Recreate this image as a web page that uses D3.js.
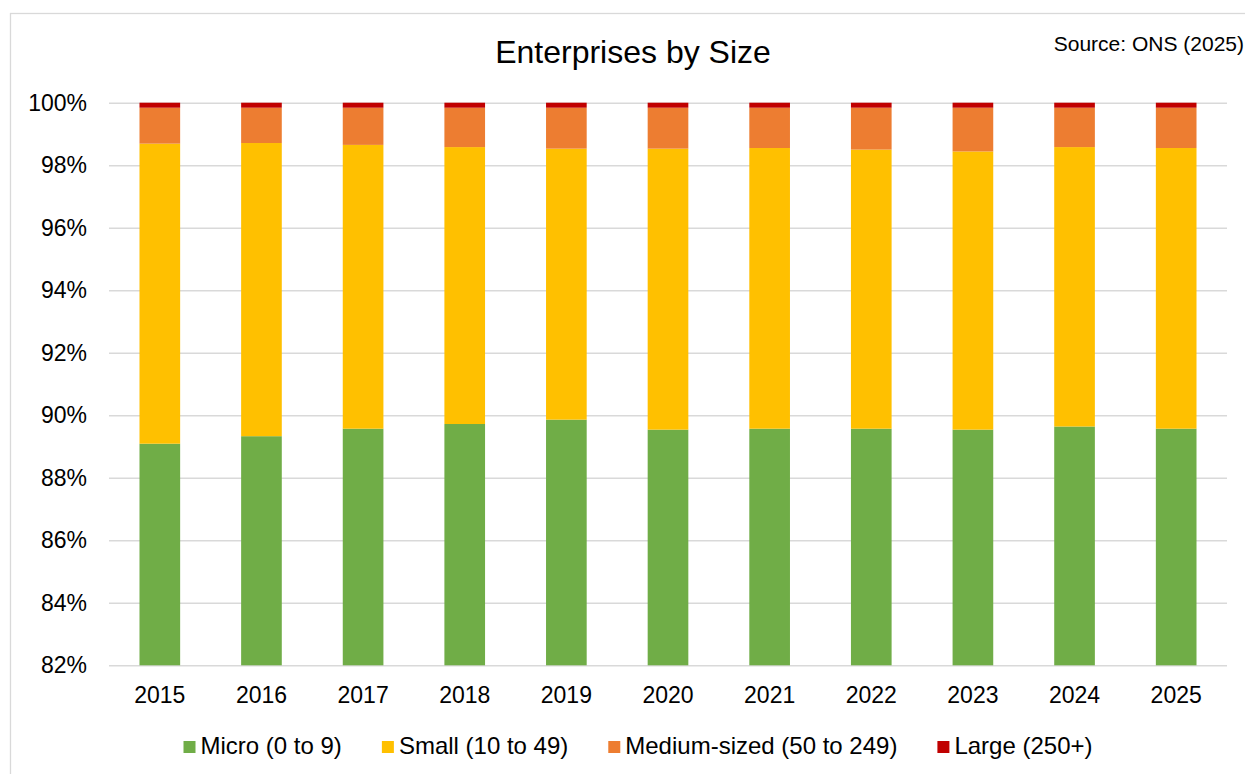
<!DOCTYPE html>
<html>
<head>
<meta charset="utf-8">
<script src="https://cdn.jsdelivr.net/npm/d3@7"></script>
<style>
  html, body { margin: 0; padding: 0; background: #fff; }
  svg { display: block; font-family: "Liberation Sans", Arial, sans-serif; }
</style>
</head>
<body>
<svg id="chart" width="1245" height="774"></svg>
<script>
const years = ["2015","2016","2017","2018","2019","2020","2021","2022","2023","2024","2025"];
const micro  = [89.09, 89.33, 89.57, 89.72, 89.86, 89.54, 89.57, 89.57, 89.54, 89.64, 89.57];
const small  = [9.60, 9.38, 9.08, 8.86, 8.67, 8.99, 8.98, 8.93, 8.90, 8.94, 8.98];
const medium = [1.15, 1.13, 1.19, 1.26, 1.31, 1.31, 1.29, 1.34, 1.40, 1.26, 1.29];
const large  = [0.16, 0.16, 0.16, 0.16, 0.16, 0.16, 0.16, 0.16, 0.16, 0.16, 0.16];
const seriesNames = ["Micro (0 to 9)", "Small (10 to 49)", "Medium-sized (50 to 249)", "Large (250+)"];
const seriesColors = ["#70AD47", "#FFC000", "#ED7D31", "#C00000"];
const yTicks = [82, 84, 86, 88, 90, 92, 94, 96, 98, 100];
const titleText = "Enterprises by Size";
const sourceText = "Source: ONS (2025)";

const svg = d3.select("#chart");
const plot = { left: 109, right: 1227, top: 102.7, bottom: 665.3 };

// outer border
svg.append("rect")
  .attr("x", 10.5).attr("y", 13.5).attr("width", 1300).attr("height", 800)
  .attr("fill", "none").attr("stroke", "#d9d9d9").attr("stroke-width", 1.3);

const rows = years.map((yr, i) => ({
  year: yr, micro: micro[i], small: small[i], medium: medium[i], large: large[i]
}));
const keys = ["micro", "small", "medium", "large"];
const stacked = d3.stack().keys(keys)(rows);

const x = d3.scaleBand().domain(years).range([plot.left, plot.right])
  .paddingInner(0.6).paddingOuter(0.3);
const y = d3.scaleLinear().domain([82, 100]).range([plot.bottom, plot.top]);

// y axis with gridlines
const yAxis = svg.append("g")
  .attr("transform", `translate(${plot.left},0)`)
  .call(d3.axisLeft(y).tickValues(yTicks).tickFormat(d => d + "%")
    .tickSize(-(plot.right - plot.left)).tickPadding(22));
yAxis.select(".domain").remove();
yAxis.selectAll(".tick line").attr("stroke", "#d9d9d9").attr("stroke-width", 1.4);
yAxis.selectAll(".tick text")
  .attr("fill", "#000").style("font-size", "23px")
  .style("font-family", '"Liberation Sans", Arial, sans-serif');

// bars
stacked.forEach((s, si) => {
  svg.append("g").selectAll("rect").data(s).join("rect")
    .attr("x", d => x(d.data.year))
    .attr("width", x.bandwidth())
    .attr("y", d => y(Math.min(100, d[1])))
    .attr("height", d => y(Math.max(82, d[0])) - y(Math.min(100, d[1])))
    .attr("fill", seriesColors[si]);
});

// x axis labels
const xAxis = svg.append("g")
  .attr("transform", `translate(0,${plot.bottom})`)
  .call(d3.axisBottom(x).tickSize(0).tickPadding(0));
xAxis.select(".domain").remove();
xAxis.selectAll(".tick text")
  .attr("dy", null).attr("y", 38)
  .attr("fill", "#000").style("font-size", "23px")
  .style("font-family", '"Liberation Sans", Arial, sans-serif');

// title and source
svg.append("text").attr("x", 633).attr("y", 62.5).attr("text-anchor", "middle")
  .style("font-size", "32px").attr("fill", "#000").text(titleText);
svg.append("text").attr("x", 1244).attr("y", 50.5).attr("text-anchor", "end")
  .style("font-size", "21px").attr("fill", "#000").text(sourceText);

// legend
const legend = svg.append("g");
const items = legend.selectAll("g").data(seriesNames).join("g");
items.append("rect").attr("width", 12).attr("height", 12).attr("y", -12.5)
  .attr("fill", (d, i) => seriesColors[i]);
items.append("text").attr("x", 17).attr("y", 0)
  .style("font-size", "24px").attr("fill", "#000").text(d => d);
let cx = 0;
items.each(function() {
  const g = d3.select(this);
  const w = g.select("text").node().getComputedTextLength();
  g.attr("transform", `translate(${cx},0)`);
  cx += 17 + w + 40;
});
const totalW = cx - 40;
legend.attr("transform", `translate(${638 - totalW / 2},753.5)`);
</script>
</body>
</html>
